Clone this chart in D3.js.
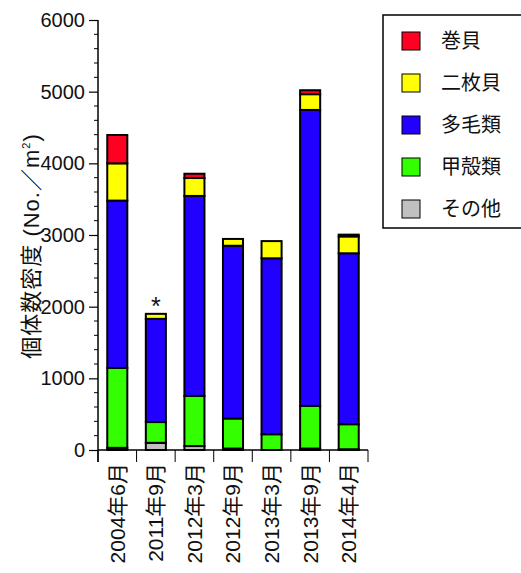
<!DOCTYPE html>
<html>
<head>
<meta charset="utf-8">
<script src="https://cdn.jsdelivr.net/npm/d3@7"></script>
<style>
  body { margin: 0; background: #fff; }
  text { font-family: "Liberation Sans", Arial, "Noto Sans CJK JP", sans-serif; fill: #111; }
</style>
</head>
<body>
<div id="chart"></div>
<script>
// categories and series values (No./m2)
var categories = ["2004年6月", "2011年9月", "2012年3月", "2012年9月", "2013年3月", "2013年9月", "2014年4月"];
var seriesNames = ["その他", "甲殻類", "多毛類", "二枚貝", "巻貝"];
var sonota   = [30, 100, 55, 20, 0, 20, 10];
var kokaku   = [1115, 290, 700, 420, 220, 595, 350];
var tamou    = [2335, 1440, 2790, 2410, 2455, 4130, 2385];
var nimai    = [520, 70, 250, 95, 240, 220, 235];
var makigai  = [395, 0, 60, 0, 0, 55, 25];
var yTicks = [0, 1000, 2000, 3000, 4000, 5000, 6000];
var colors = ["#c0c0c0", "#33ff00", "#2200ff", "#ffff00", "#ff0022"];

var margin = { top: 20, right: 153, bottom: 123, left: 98 },
    width = 521 - margin.left - margin.right,
    height = 573 - margin.top - margin.bottom;

var svg = d3.select("#chart")
  .append("svg")
  .attr("width", 521)
  .attr("height", 573);

var g = svg.append("g")
  .attr("transform", "translate(" + margin.left + "," + margin.top + ")");

var x = d3.scaleBand().domain(categories).range([0, width]).paddingInner(0.48).paddingOuter(0.24);
var y = d3.scaleLinear().domain([0, 6000]).range([height, 0]);

// build stacked table
var table = categories.map(function(c, i) {
  return { cat: c, "その他": sonota[i], "甲殻類": kokaku[i], "多毛類": tamou[i], "二枚貝": nimai[i], "巻貝": makigai[i] };
});
var stacked = d3.stack().keys(seriesNames)(table);

// bars
g.selectAll("g.layer")
  .data(stacked)
  .enter().append("g")
  .attr("class", "layer")
  .attr("fill", function(d, i) { return colors[i]; })
  .selectAll("rect")
  .data(function(d) { return d.filter(function(p) { return p[1] - p[0] > 0; }); })
  .enter().append("rect")
  .attr("x", function(d) { return x(d.data.cat); })
  .attr("y", function(d) { return y(d[1]); })
  .attr("width", x.bandwidth())
  .attr("height", function(d) { return y(d[0]) - y(d[1]); })
  .attr("stroke", "#000")
  .attr("stroke-width", 2);

// asterisk over 2011
var top2011 = sonota[1] + kokaku[1] + tamou[1] + nimai[1] + makigai[1];
g.append("text")
  .attr("x", x(categories[1]) + x.bandwidth() / 2)
  .attr("y", y(top2011) + 1)
  .attr("text-anchor", "middle")
  .style("font-size", "25px")
  .text("*");

// y axis
var yAxis = g.append("g")
  .call(d3.axisLeft(y).tickValues(yTicks).tickSize(9).tickPadding(4).tickFormat(d3.format("d")));
yAxis.select(".domain").attr("d", "M0," + (height + 12) + "V0").attr("stroke-width", 1.5);
yAxis.selectAll("text").style("font-size", "20px").attr("fill", "#111");
yAxis.selectAll("line").attr("stroke-width", 1.2);

// minor ticks
g.append("g")
  .selectAll("line")
  .data(d3.range(0, 6001, 200).filter(function(v) { return v % 1000 !== 0; }))
  .enter().append("line")
  .attr("x1", -4).attr("x2", 0)
  .attr("y1", function(d) { return y(d); })
  .attr("y2", function(d) { return y(d); })
  .attr("stroke", "#000");

// x axis
var xg = g.append("g").attr("transform", "translate(0," + height + ")");
xg.append("line").attr("x1", 0).attr("x2", width).attr("stroke", "#000").attr("stroke-width", 1.5);
xg.selectAll("line.tk")
  .data(d3.range(categories.length + 1))
  .enter().append("line")
  .attr("class", "tk")
  .attr("x1", function(i) { return i * width / categories.length; })
  .attr("x2", function(i) { return i * width / categories.length; })
  .attr("y1", 0).attr("y2", 12)
  .attr("stroke", "#000");
xg.selectAll("text")
  .data(categories)
  .enter().append("text")
  .attr("transform", function(d) {
    return "translate(" + (x(d) + x.bandwidth() / 2) + ",13) rotate(-90)";
  })
  .attr("text-anchor", "end")
  .attr("dy", "0.35em")
  .style("font-size", "21px")
  .text(function(d) { return d; });

// y axis label
svg.append("text")
  .attr("transform", "translate(31," + 246 + ") rotate(-90)")
  .attr("text-anchor", "middle")
  .attr("dy", "0.35em")
  .style("font-size", "22px")
  .style("letter-spacing", "1px")
  .html("個体数密度 (No.／m<tspan dy='-9' font-size='11px'>2</tspan><tspan dy='9'>)</tspan>");

// legend
var legend = svg.append("g").attr("transform", "translate(383,15)");
legend.append("rect")
  .attr("width", 140).attr("height", 213)
  .attr("fill", "#fff").attr("stroke", "#000").attr("stroke-width", 1.5);
var legendOrder = seriesNames.slice().reverse();
var item = legend.selectAll("g.item")
  .data(legendOrder)
  .enter().append("g")
  .attr("class", "item")
  .attr("transform", function(d, i) { return "translate(19," + (26 + i * 42) + ")"; });
item.append("rect")
  .attr("x", 0).attr("y", -9).attr("width", 18).attr("height", 18)
  .attr("fill", function(d) { return colors[seriesNames.indexOf(d)]; })
  .attr("stroke", "#000").attr("stroke-width", 1);
item.append("text")
  .attr("x", 39).attr("dy", "0.35em")
  .style("font-size", "20px")
  .text(function(d) { return d; });
</script>
</body>
</html>
